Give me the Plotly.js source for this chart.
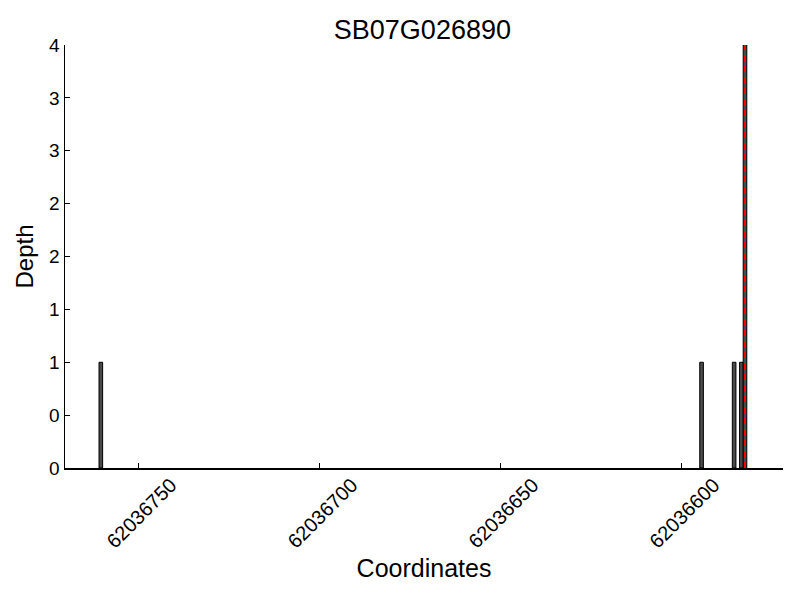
<!DOCTYPE html>
<html>
<head>
<meta charset="utf-8">
<script src="https://cdn.plot.ly/plotly-3.0.1.min.js"></script>
<style>html,body{margin:0;padding:0;background:#fff;}#chart{width:800px;height:600px;}</style>
</head>
<body>
<div id="chart"></div>
<script>
// Data
const positions = [62036760, 62036594, 62036585, 62036583, 62036582];
const depths = [1, 1, 1, 1, 4];
const highlightPos = 62036582;
const yTickVals = [0, 0.5, 1, 1.5, 2, 2.5, 3, 3.5, 4];
const yTickText = ["0", "0", "1", "1", "2", "2", "3", "3", "4"];
const xTickVals = [62036750, 62036700, 62036650, 62036600];
const xTickText = ["62036750", "62036700", "62036650", "62036600"];
const chartTitle = "SB07G026890";

const font = "Liberation Sans, Arial, sans-serif";

const trace = {
  type: "bar",
  x: positions,
  y: depths,
  width: 1,
  offset: 0,
  marker: {color: "#4a4a4a", line: {color: "#000000", width: 1}},
  hoverinfo: "x+y"
};

const layout = {
  width: 800, height: 600,
  margin: {l: 65, r: 17, t: 45, b: 132, pad: 0},
  paper_bgcolor: "#ffffff", plot_bgcolor: "#ffffff",
  showlegend: false,
  title: {text: chartTitle, font: {family: font, size: 27, color: "#000"}, x: 0.528, xanchor: "center", y: 0.95, yanchor: "middle"},
  xaxis: {
    range: [62036770.4, 62036572.0],
    tickmode: "array", tickvals: xTickVals, ticktext: xTickText,
    tickangle: -45, ticks: "inside", ticklen: 5, tickcolor: "#000",
    tickfont: {family: font, size: 20, color: "#000"},
    showline: true, linecolor: "#000", linewidth: 1.5, mirror: false,
    showgrid: false, zeroline: false,
    ticklabelshift: -32,
    ticklabelstandoff: -4,
    title: {text: "Coordinates", font: {family: font, size: 25, color: "#000"}, standoff: 8}
  },
  yaxis: {
    range: [0, 4],
    tickmode: "array", tickvals: yTickVals, ticktext: yTickText,
    ticks: "inside", ticklen: 5, tickcolor: "#000",
    tickfont: {family: font, size: 19, color: "#000"},
    showline: true, linecolor: "#000", linewidth: 1.5, mirror: false,
    showgrid: false, zeroline: false,
    title: {text: "Depth", font: {family: font, size: 24, color: "#000"}, standoff: 8}
  },
  shapes: [{
    type: "line", xref: "x", yref: "y",
    x0: highlightPos + 0.5, x1: highlightPos + 0.5, y0: 0, y1: 4,
    line: {color: "#ff0000", width: 2, dash: "6px,5px"}
  }]
};

Plotly.newPlot("chart", [trace], layout, {displayModeBar: false, staticPlot: true});
</script>
</body>
</html>
